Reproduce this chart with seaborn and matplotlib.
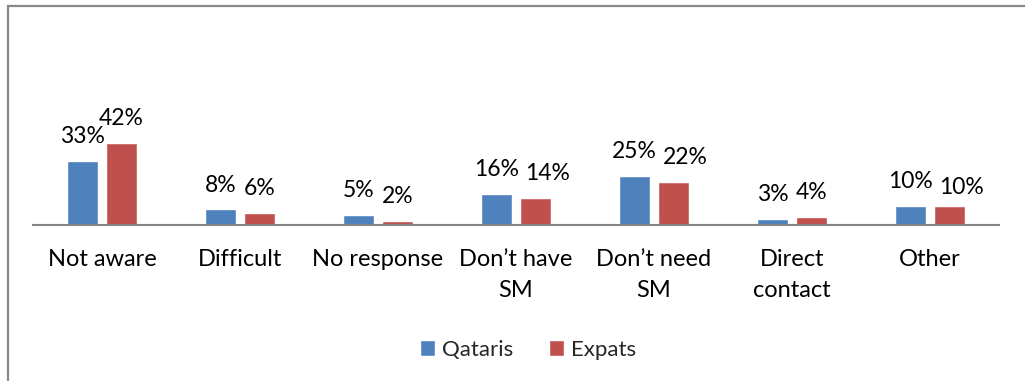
import matplotlib
matplotlib.use("Agg")
import matplotlib.pyplot as plt
import seaborn as sns
import pandas as pd
from matplotlib.patches import Rectangle

categories = ["Not aware", "Difficult", "No response", "Don\u2019t have\nSM",
              "Don\u2019t need\nSM", "Direct\ncontact", "Other"]
qataris = [33, 8, 5, 16, 25, 3, 10]
expats = [42, 6, 2, 14, 22, 4, 10]
series = ["Qataris", "Expats"]
colors = ["#4F81BD", "#C0504D"]

df = pd.DataFrame({
    "category": categories * 2,
    "group": [series[0]] * len(categories) + [series[1]] * len(categories),
    "value": qataris + expats,
})

sns.set_theme(style="white")
plt.rcParams["font.family"] = ["Lato", "DejaVu Sans"]

W, H = 1025, 381
DPI = 100
fig = plt.figure(figsize=(W / DPI, H / DPI), dpi=DPI)
fs_cat, fs_val, fs_leg = 17, 16.5, 16

# plot area in pixel terms
left, right, axis_y, top = 33, 999, 225, 127.75
ax = fig.add_axes([left / W, (H - axis_y) / H, (right - left) / W, (axis_y - top) / H])

sns.barplot(data=df, x="category", y="value", hue="group", palette=colors,
            order=categories, hue_order=series, width=0.565, gap=0.205,
            ax=ax, legend=True, saturation=1)

ax.set_ylim(0, 50)
ax.set_xlim(-0.5, len(categories) - 0.5)
ax.set_xlabel("")
ax.set_ylabel("")
ax.set_yticks([])
for s in ["top", "right", "left"]:
    ax.spines[s].set_visible(False)
ax.spines["bottom"].set_color("#868686")
ax.spines["bottom"].set_linewidth(1.5)
ax.tick_params(axis="x", length=0, pad=17, labelsize=fs_cat, labelcolor="black")
for lbl in ax.get_xticklabels():
    lbl.set_linespacing(1.6)

pad_pt = 10
label_sets = []
for cont in ax.containers:
    label_sets.append(ax.bar_label(cont, fmt="{:.0f}%", padding=pad_pt,
                                   fontsize=fs_val, color="black", clip_on=False))

# push the right label of a pair aside when it would collide with the left one
fig.canvas.draw()
renderer = fig.canvas.get_renderer()
px2pt = 72 / DPI
spacing_px = 6
for i, (a, b) in enumerate(zip(label_sets[0], label_sets[1])):
    ba = a.get_window_extent(renderer)
    bb = b.get_window_extent(renderer)
    v_overlap = min(ba.y1, bb.y1) - max(ba.y0, bb.y0)
    h_overlap = ba.x1 + spacing_px - bb.x0
    if v_overlap > 4 and h_overlap > 0:
        dy = -6 * px2pt if qataris[i] == expats[i] else 0
        b.xyann = (h_overlap * px2pt, pad_pt + dy)

handles, labels = ax.get_legend_handles_labels()
ax.get_legend().remove()
fig.legend(handles, labels, loc="center", bbox_to_anchor=(528 / W, (H - 350) / H),
           ncol=2, frameon=False, fontsize=fs_leg, handlelength=0.7, handleheight=0.7,
           handletextpad=0.3, columnspacing=1.6, borderaxespad=0)

# chart frame (top and left edges visible)
fig.patches.append(Rectangle((8 / W, -0.1), 1.2, (H - 6) / H + 0.1,
                             transform=fig.transFigure, fill=False,
                             edgecolor="#878787", linewidth=1.6))

fig.savefig("out.png", dpi=DPI)
